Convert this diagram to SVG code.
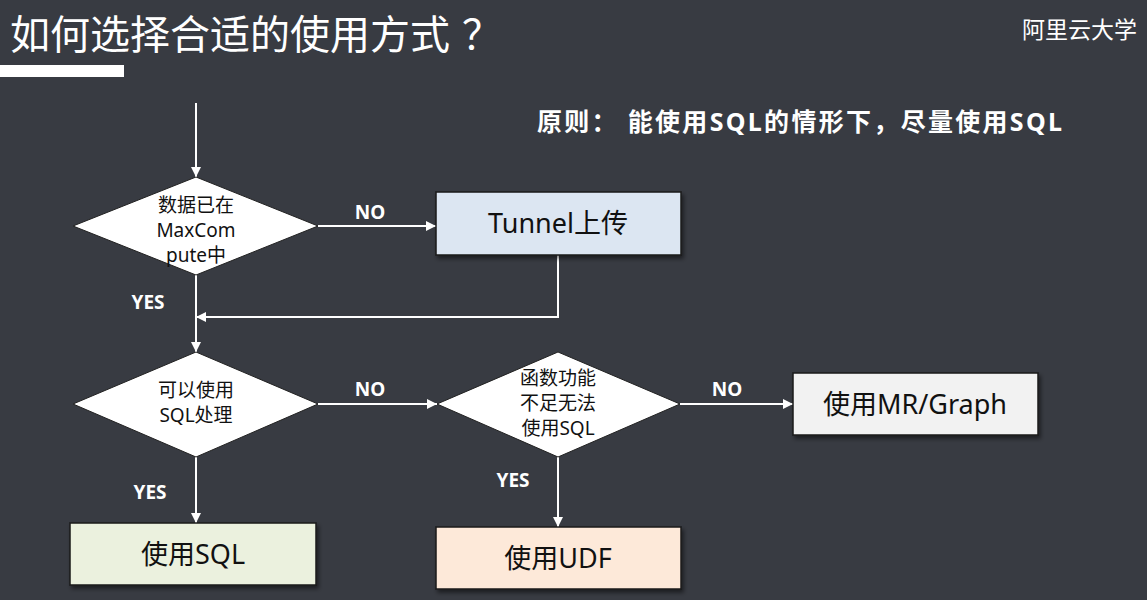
<svg xmlns="http://www.w3.org/2000/svg" width="1147" height="600" viewBox="0 0 1147 600">
<defs>
<marker id="ah" viewBox="0 0 10 10" refX="10" refY="5" markerWidth="10" markerHeight="10" markerUnits="userSpaceOnUse" orient="auto">
<path d="M0,0 L10,5 L0,10 Z" fill="#ffffff"/>
</marker>
<filter id="sh" x="-10%" y="-10%" width="130%" height="140%">
<feDropShadow dx="2" dy="3" stdDeviation="2" flood-color="#000" flood-opacity="0.5"/>
</filter>
</defs>
<style>
.t{font-family:"Noto Sans","Noto Sans CJK SC",sans-serif;}
.lbl{font-family:"Noto Sans","Noto Sans CJK SC",sans-serif;font-weight:bold;font-size:19px;fill:#ffffff;text-anchor:middle;}
.dtxt{font-family:"Noto Sans","Noto Sans CJK SC",sans-serif;font-size:19px;fill:#111;text-anchor:middle;}
.btxt{font-family:"Noto Sans","Noto Sans CJK SC",sans-serif;font-size:27px;fill:#111;text-anchor:middle;}
.dia{fill:#ffffff;stroke:#222;stroke-width:1;}
.box{stroke:#1a1a1a;stroke-width:1.5;filter:url(#sh);}
.con{stroke:#ffffff;stroke-width:2;fill:none;}
</style>
<rect x="0" y="0" width="1147" height="600" fill="#383b42"/>
<text x="10" y="49" font-family="Noto Sans CJK SC, sans-serif" font-size="40" fill="#ffffff">如何选择合适的使用方式<tspan dx="12">？</tspan></text>
<rect x="0" y="65" width="124" height="12" fill="#ffffff"/>
<text x="1137" y="38" font-family="Noto Sans CJK SC, sans-serif" font-size="23" fill="#ffffff" text-anchor="end">阿里云大学</text>
<text class="t" x="537" y="131" font-size="25" font-weight="bold" fill="#ffffff" textLength="525" lengthAdjust="spacing">原则： 能使用SQL的情形下，尽量使用SQL</text>

<g id="connectors">
<line class="con" x1="196" y1="103" x2="196" y2="177" marker-end="url(#ah)"/>
<line class="con" x1="318" y1="226" x2="436" y2="226" marker-end="url(#ah)"/>
<polyline class="con" points="558,255 558,317 196,317" marker-end="url(#ah)"/>
<line class="con" x1="196" y1="275" x2="196" y2="352" marker-end="url(#ah)"/>
<line class="con" x1="318" y1="404" x2="437" y2="404" marker-end="url(#ah)"/>
<line class="con" x1="680" y1="404" x2="793" y2="404" marker-end="url(#ah)"/>
<line class="con" x1="196" y1="457" x2="196" y2="523" marker-end="url(#ah)"/>
<line class="con" x1="558" y1="457" x2="558" y2="527" marker-end="url(#ah)"/>
<text class="lbl" x="370" y="219">NO</text>
<text class="lbl" x="148" y="309">YES</text>
<text class="lbl" x="370" y="396">NO</text>
<text class="lbl" x="727" y="396">NO</text>
<text class="lbl" x="150" y="499">YES</text>
<text class="lbl" x="513" y="487">YES</text>
</g>

<g id="d1">
<polygon class="dia" points="196,177 318,226 196,275 73,226"/>
<text class="dtxt" x="196" y="212">数据已在</text>
<text class="dtxt" x="196" y="237">MaxCom</text>
<text class="dtxt" x="196" y="262">pute中</text>
</g>
<g id="tunnel">
<rect class="box" x="436" y="192" width="245" height="63" fill="#dce6f2"/>
<text class="btxt" x="558" y="233">Tunnel上传</text>
</g>
<g id="d2">
<polygon class="dia" points="196,352 318,404 196,457 73,404"/>
<text class="dtxt" x="196" y="397">可以使用</text>
<text class="dtxt" x="196" y="422">SQL处理</text>
</g>
<g id="d3">
<polygon class="dia" points="558,352 680,404 558,457 437,404"/>
<text class="dtxt" x="558" y="385">函数功能</text>
<text class="dtxt" x="558" y="410">不足无法</text>
<text class="dtxt" x="558" y="435">使用SQL</text>
</g>
<g id="mr">
<rect class="box" x="793" y="373" width="245" height="62" fill="#f2f2f2"/>
<text class="btxt" x="915" y="414">使用MR/Graph</text>
</g>
<g id="sql">
<rect class="box" x="70" y="523" width="246" height="62" fill="#ebf1de"/>
<text class="btxt" x="193" y="564">使用SQL</text>
</g>
<g id="udf">
<rect class="box" x="436" y="527" width="245" height="62" fill="#fde9d9"/>
<text class="btxt" x="558" y="568">使用UDF</text>
</g>
</svg>
